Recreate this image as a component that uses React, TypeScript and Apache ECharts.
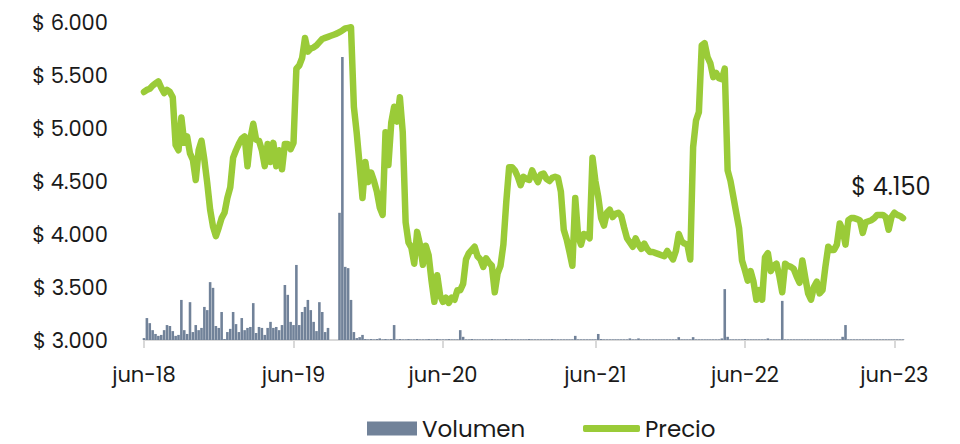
import React, { useEffect, useRef } from "react";
import * as echarts from "echarts";

const startDate = "2018-06-04"; // weekly observations
const meses = ["ene", "feb", "mar", "abr", "may", "jun", "jul", "ago", "sep", "oct", "nov", "dic"];
const xTickLabels = ["jun-18", "jun-19", "jun-20", "jun-21", "jun-22", "jun-23"];
const yTickValues = [3000, 3500, 4000, 4500, 5000, 5500, 6000];
const seriesNames = ["Volumen", "Precio"];
const ultimoPrecioLabel = "$ 4.150";

const precio = [
  5340, 5360, 5370, 5400, 5420, 5440, 5380, 5330, 5360, 5340,
  5290, 4840, 4790, 5100, 4860, 4920, 4760, 4700, 4510, 4790,
  4880, 4700, 4480, 4230, 4070, 3980, 4060, 4150, 4200, 4340,
  4440, 4720, 4790, 4850, 4900, 4920, 4640, 4900, 5040, 4890,
  4880, 4790, 4640, 4850, 4680, 4860, 4640, 4790, 4610, 4850,
  4850, 4800, 4860, 5560, 5590, 5660, 5850, 5720, 5750, 5760,
  5780, 5810, 5840, 5850, 5860, 5870, 5880, 5890, 5905, 5920,
  5940, 5945, 5950, 5200, 4950, 4650, 4340, 4680, 4490, 4580,
  4500, 4400, 4250, 4180, 4960, 4650, 5050, 5200, 5060, 5290,
  4960, 4110, 3920, 3870, 3720, 4020, 3900, 3710, 3890, 3800,
  3560, 3360, 3610, 3420, 3360, 3400, 3350, 3400, 3380, 3470,
  3470, 3530, 3760, 3820, 3850, 3880, 3790, 3760, 3690, 3770,
  3730, 3700, 3450, 3630, 3700, 3900, 4300, 4630, 4630, 4600,
  4540, 4460, 4540, 4520, 4510, 4600, 4540, 4490, 4560, 4570,
  4520, 4500, 4530, 4540, 4530, 4400, 4040, 3950, 3830, 3700,
  4340, 3980, 3900, 4000, 3990, 3960, 4720, 4500, 4350, 4150,
  4080, 4200, 4230, 4160, 4190, 4200, 4170, 4060, 3960, 3920,
  3880, 3960, 3900, 3860, 3910, 3860, 3830, 3830, 3820, 3810,
  3800, 3790, 3840, 3800, 3760, 3840, 4000, 3930, 3910, 3900,
  3760, 4820, 5070, 5150, 5780, 5800, 5670, 5610, 5480, 5520,
  5470, 5460, 5560, 4600, 4500, 4350, 4200, 4050, 3750, 3660,
  3560, 3650, 3550, 3380, 3470, 3380, 3780, 3820, 3650, 3700,
  3720, 3600, 3450, 3720, 3700, 3690, 3670, 3600, 3540, 3750,
  3590, 3440, 3380, 3500, 3550, 3440, 3470, 3690, 3880, 3850,
  3850, 3900, 4100, 4040, 3900, 4130, 4150, 4150, 4140, 4130,
  4010, 4110, 4120, 4130, 4150, 4180, 4180, 4180, 4160, 4040,
  4160, 4200, 4180, 4170, 4150,
];

const volumen = [
  0.6, 6.9, 5.3, 3.1, 1.9, 1.3, 1.6, 3.1, 4.7, 4.4,
  2.8, 1.3, 1.6, 12.6, 3.1, 1.9, 11.9, 2.5, 4.7, 3.1,
  3.8, 10.4, 9.4, 18.2, 16.4, 4.4, 3.8, 8.8, 0.3, 2.5,
  3.5, 8.8, 5.0, 2.5, 6.9, 3.1, 3.8, 4.1, 11.6, 2.2,
  4.1, 3.8, 1.6, 3.8, 5.7, 3.8, 4.1, 3.1, 4.7, 17.3,
  14.2, 5.7, 4.7, 23.6, 4.7, 8.8, 10.4, 12.6, 9.4, 5.7,
  2.8, 11.9, 8.8, 2.5, 3.8, 0, 0, 0, 40, 89,
  23, 22.6, 12.6, 2.5, 0.6, 0.9, 1.6, 0.3, 0.2, 0.3,
  0.2, 0.3, 0.5, 0.2, 0.3, 0.2, 0.3, 4.7, 0.2, 0.3,
  0.2, 0.2, 0.3, 0.2, 0.2, 0.3, 0.2, 0.2, 0.2, 0.3,
  0.2, 0.2, 0.3, 0.2, 0.2, 0.2, 0.3, 0.2, 0.2, 0.2,
  3.1, 1.0, 0.2, 0.2, 0.3, 0.2, 0.2, 0.2, 0.2, 0.2,
  0.2, 0.3, 0.2, 0.2, 0.2, 0.2, 0.3, 0.2, 0.2, 0.2,
  0.2, 0.2, 0.2, 0.2, 0.3, 0.2, 0.2, 0.2, 0.2, 0.2,
  0.2, 0.2, 0.3, 0.2, 0.2, 0.2, 0.2, 0.2, 0.2, 0.2,
  1.3, 0.2, 0.2, 0.2, 0.2, 0.2, 0.2, 0.2, 1.9, 0.3,
  0.2, 0.2, 0.2, 0.2, 0.2, 0.2, 0.2, 0.2, 0.2, 0.5,
  0.2, 0.2, 0.5, 0.2, 0.2, 0.2, 0.2, 0.2, 0.2, 0.2,
  0.2, 0.2, 0.2, 0.2, 0.2, 0.2, 0.9, 0.2, 0.2, 0.2,
  0.2, 0.9, 0.2, 0.2, 0.2, 0.2, 0.2, 0.2, 0.2, 0.2,
  0.2, 0.5, 16, 1.0, 0.2, 0.2, 0.2, 0.2, 0.2, 0.3,
  0.2, 0.2, 0.2, 0.2, 0.2, 0.2, 0.2, 0.5, 0.2, 0.2,
  0.2, 0.2, 12.3, 0.2, 0.2, 0.2, 0.2, 0.2, 0.2, 0.2,
  0.2, 0.2, 0.2, 0.2, 0.2, 0.2, 0.2, 0.2, 0.2, 0.2,
  0.2, 0.2, 0.2, 1.0, 4.7, 0.2, 0.2, 0.2, 0.2, 0.2,
  0.2, 0.2, 0.2, 0.2, 0.2, 0.2, 0.2, 0.2, 0.2, 0.2,
  0.2, 0.2, 0.2, 0.2, 0.2,
];

const FONT = "Poppins, 'Open Sans', 'Noto Sans', sans-serif";
const GREEN = "#9ACB38";
const SLATE = "#718299";
const TEXT = "#1a1a1a";

function buildDates(n: number): string[] {
  const out: string[] = [];
  const t0 = Date.parse(startDate + "T00:00:00Z");
  for (let i = 0; i < n; i++) {
    const d = new Date(t0 + i * 7 * 86400000);
    out.push(d.toISOString().slice(0, 10));
  }
  return out;
}

function fmtPeso(v: number): string {
  const miles = Math.floor(v / 1000);
  const resto = String(Math.round(v % 1000)).padStart(3, "0");
  return "$ " + miles + "." + resto;
}

export default function App() {
  const ref = useRef<HTMLDivElement>(null);
  useEffect(() => {
    if (!ref.current) return;
    const chart = echarts.init(ref.current, undefined, { renderer: "svg" });
    const fechas = buildDates(precio.length);
    const month = (i: number) => Number(fechas[i].slice(5, 7)) - 1;
    const labelIdx: Record<number, string> = {};
    let k = 0;
    fechas.forEach((f, i) => {
      if (month(i) === 5 && (i === 0 || month(i - 1) !== 5)) {
        labelIdx[i] = xTickLabels[k] ?? meses[5] + "-" + f.slice(2, 4);
        k++;
      }
    });
    const isTick = (i: number) => labelIdx[i] !== undefined;
    const last = precio.length - 1;
    const legendText = { fontFamily: FONT, fontSize: 23, color: TEXT };
    chart.setOption({
      animation: false,
      grid: { left: 144, right: 57, top: 22, bottom: 104, containLabel: false },
      legend: [
        {
          data: [{ name: seriesNames[0], icon: "rect" }],
          left: 362,
          top: 412,
          itemWidth: 50,
          itemHeight: 14,
          itemGap: 8,
          textStyle: legendText,
        },
        {
          data: [{ name: seriesNames[1], icon: "roundRect" }],
          left: 578,
          top: 412,
          itemWidth: 57,
          itemHeight: 7,
          textStyle: legendText,
        },
      ],
      xAxis: {
        type: "category",
        data: fechas,
        boundaryGap: false,
        axisLine: { show: true, lineStyle: { color: "#d9d9d9", width: 2 } },
        axisTick: {
          show: true,
          interval: (i: number) => isTick(i),
          length: 8,
          lineStyle: { color: "#d9d9d9", width: 2 },
        },
        axisLabel: {
          interval: (i: number) => isTick(i),
          formatter: (_v: string, i: number) => labelIdx[i] ?? "",
          margin: 24,
          fontFamily: FONT,
          fontSize: 21,
          color: TEXT,
        },
        splitLine: { show: false },
      },
      yAxis: [
        {
          type: "value",
          min: yTickValues[0],
          max: yTickValues[yTickValues.length - 1],
          interval: 500,
          axisLine: { show: false },
          axisTick: { show: false },
          splitLine: { show: false },
          axisLabel: {
            formatter: (v: number) => fmtPeso(v),
            margin: 36,
            fontFamily: FONT,
            fontSize: 21,
            color: TEXT,
          },
        },
        {
          type: "value",
          min: 0,
          max: 100,
          show: false,
          splitLine: { show: false },
        },
      ],
      series: [
        {
          name: seriesNames[0],
          type: "bar",
          yAxisIndex: 1,
          data: volumen,
          barCategoryGap: "10%",
          itemStyle: { color: SLATE },
          z: 1,
        },
        {
          name: seriesNames[1],
          type: "line",
          yAxisIndex: 0,
          data: precio,
          symbol: "none",
          showSymbol: false,
          lineStyle: { color: GREEN, width: 6.5, cap: "round", join: "round" },
          itemStyle: { color: GREEN },
          z: 3,
          markPoint: {
            symbol: "circle",
            symbolSize: 2,
            itemStyle: { color: "rgba(0,0,0,0)" },
            data: [
              {
                coord: [last, precio[last]],
                value: precio[last],
                label: {
                  show: true,
                  position: "top",
                  distance: 12,
                  offset: [-12, -7],
                  formatter: ultimoPrecioLabel,
                  fontFamily: FONT,
                  fontSize: 24,
                  color: TEXT,
                },
              },
            ],
          },
        },
      ],
    });
    return () => chart.dispose();
  }, []);
  return (
    <div
      ref={ref}
      style={{ position: "fixed", left: 0, top: 0, width: 960, height: 444, background: "#fff" }}
    />
  );
}
